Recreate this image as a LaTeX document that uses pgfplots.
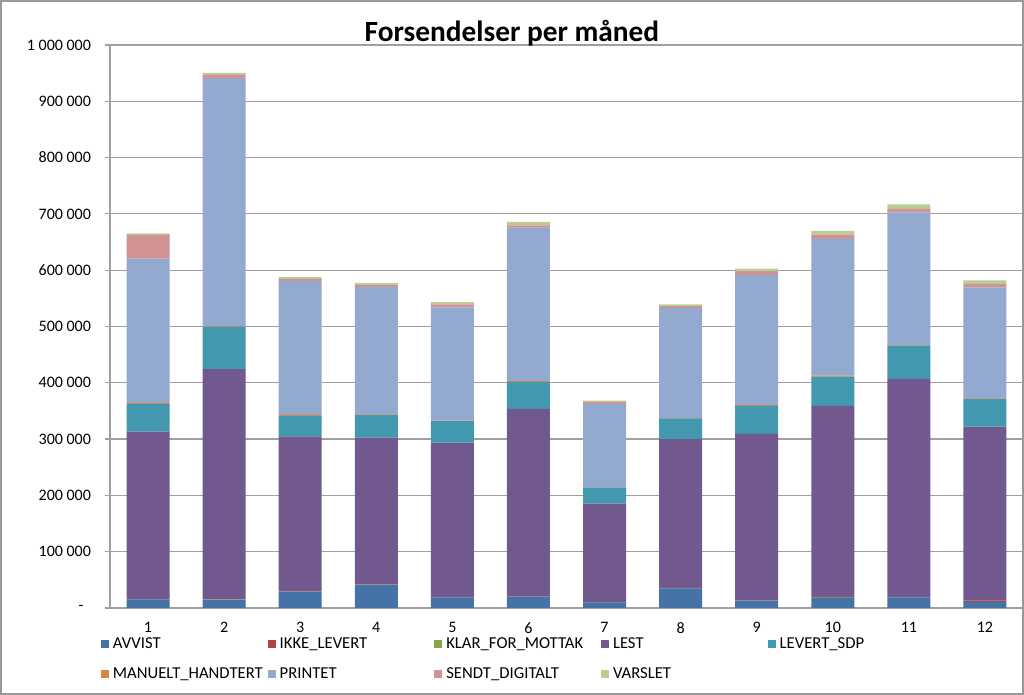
\documentclass[border=0pt]{standalone}
\usepackage{pgfplots}
\pgfplotsset{compat=1.18}
\usepackage{pgfplotstable}
\usepackage{fontspec}
\setmainfont{Carlito}
\definecolor{cAvvist}{HTML}{4572A7}
\definecolor{cIkke}{HTML}{AA4643}
\definecolor{cKlar}{HTML}{89A54E}
\definecolor{cLest}{HTML}{71588F}
\definecolor{cSdp}{HTML}{4198AF}
\definecolor{cMan}{HTML}{DB843D}
\definecolor{cPrint}{HTML}{93A9CF}
\definecolor{cSendt}{HTML}{D19392}
\definecolor{cVarsl}{HTML}{B9CD96}
\definecolor{cGrid}{HTML}{A0A0A0}
\pgfplotstableread{
m avvist ikke klar lest sdp man printet sendt varslet
1 15400 500 300 297000 49000 1500 257000 42000 2500
2 14000 800 300 409000 75000 1000 441000 6000 3500
3 29000 500 300 275000 36000 2000 238000 4000 3000
4 41000 500 300 261000 40000 1000 226000 3500 4000
5 19000 500 300 274000 38000 1000 201000 5500 4000
6 20000 500 300 333000 48000 1000 273000 4000 6000
7 10000 300 200 175000 27500 500 149000 3000 3000
8 35000 500 300 264000 37000 800 195500 3000 3000
9 13000 500 300 295500 49500 1500 231000 7000 4500
10 18500 1000 300 339000 52000 2000 243000 7500 6500
11 19000 500 300 387000 59000 1000 236000 6000 8000
12 11000 2000 300 309000 49000 1000 197000 6500 6000
}\datatable
\begin{document}
\begin{tikzpicture}
\path[use as bounding box] (0,0) rectangle (768pt,521.25pt);
\fill[white] (0,0) rectangle (768pt,521.25pt);
\begin{axis}[
  at={(82.5pt,65.25pt)}, anchor=south west,
  scale only axis, width=684.75pt, height=422.25pt,
  ybar stacked, bar width=0.565,
  xmin=0.5, xmax=12.5, ymin=0, ymax=1000000,
  enlargelimits=false,
  axis x line*=bottom, axis y line*=left,
  axis line style={cGrid, line width=0.9pt, -},
  xtick={1,...,12}, xticklabels={1,2,3,4,5,6,7,8,9,10,11,12},
  xtick style={draw=none},
  xticklabel style={font=\fontsize{12}{14}\selectfont, inner sep=0pt, text depth=0pt, yshift=-6.5pt},
  ytick={0,100000,...,1000000},
  yticklabels={{-\kern5.5pt},100 000,200 000,300 000,400 000,500 000,600 000,700 000,800 000,900 000,1 000 000},
  scaled y ticks=false,
  yticklabel style={font=\fontsize{12}{14}\selectfont, xshift=-6.75pt},
  ytick style={cGrid, line width=0.9pt},
  tick align=outside, major tick length=4pt,
  ymajorgrids, grid style={cGrid, line width=0.9pt},
  /pgf/number format/assume math mode=true,
  legend columns=5,
  legend image code/.code={\fill[#1] (0pt,-3pt) rectangle (6pt,3pt);},
  legend style={at={(-0.00986,-0.0545)}, anchor=north west, draw=none, fill=none,
    inner sep=0pt, outer sep=0pt, row sep=14.5pt,
    font=\fontsize{12.5}{14}\selectfont,
    nodes={text width=113pt, align=left, inner xsep=3pt, inner ysep=0pt, text height=7pt, text depth=1pt}},
]
\addplot[fill=cAvvist, draw=none] table[x=m, y=avvist] {\datatable};
\addplot[fill=cIkke, draw=none] table[x=m, y=ikke] {\datatable};
\addplot[fill=cKlar, draw=none] table[x=m, y=klar] {\datatable};
\addplot[fill=cLest, draw=none] table[x=m, y=lest] {\datatable};
\addplot[fill=cSdp, draw=none] table[x=m, y=sdp] {\datatable};
\addplot[fill=cMan, draw=none] table[x=m, y=man] {\datatable};
\addplot[fill=cPrint, draw=none] table[x=m, y=printet] {\datatable};
\addplot[fill=cSendt, draw=none] table[x=m, y=sendt] {\datatable};
\addplot[fill=cVarsl, draw=none] table[x=m, y=varslet] {\datatable};
\legend{AVVIST,IKKE\_LEVERT,KLAR\_FOR\_MOTTAK,LEST,LEVERT\_SDP,MANUELT\_HANDTERT,PRINTET,SENDT\_DIGITALT,VARSLET}
\end{axis}
\node[font=\bfseries\fontsize{22}{26}\selectfont] at (384pt,496.5pt) {Forsendelser per måned};
\draw[gray!80, line width=1.2pt] (0.6pt,0.6pt) rectangle (767.4pt,520.65pt);
\end{tikzpicture}
\end{document}
